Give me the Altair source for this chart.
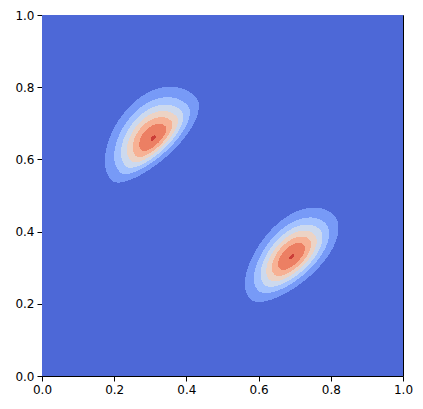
import numpy as np
import pandas as pd
import altair as alt

# ---- bump parameters (data units) ----
CENTER_X = [0.309, 0.692]
CENTER_Y = [0.658, 0.330]
PEAK = [7.05, 7.04]
ANGLE_DEG = [45.0, 45.0]
SIGMA_MAJOR = [0.083, 0.083]
SIGMA_MINOR_UPPER = [0.055, 0.047]
SIGMA_MINOR_LOWER = [0.031, 0.037]
WIDENING = [0.06, 0.06]

LEVELS = [0, 1, 2, 3, 4, 5, 6, 7]
COLORS = ["#4d68d7", "#779af7", "#a3c2ff", "#ccd9ee",
          "#ecd3c5", "#f7b194", "#ec7f63", "#cb3e38"]
TICKS = [0.0, 0.2, 0.4, 0.6, 0.8, 1.0]

N = 361
centers = (np.arange(N) + 0.5) / N
X, Y = np.meshgrid(centers, centers)
Z = np.zeros_like(X)
for cx, cy, a, ang, su, svp, svm, k in zip(CENTER_X, CENTER_Y, PEAK, ANGLE_DEG,
                                            SIGMA_MAJOR, SIGMA_MINOR_UPPER,
                                            SIGMA_MINOR_LOWER, WIDENING):
    t = np.deg2rad(ang)
    dx, dy = X - cx, Y - cy
    u = dx * np.cos(t) + dy * np.sin(t)
    v = -dx * np.sin(t) + dy * np.cos(t)
    sv = np.where(v > 0, svp, svm) * np.clip(1 + k * u / su, 0.3, None)
    Z += a * np.exp(-0.5 * (u ** 2 / su ** 2 + v ** 2 / sv ** 2))

L = np.clip(np.floor(Z), 0, 7).astype(int)

rows = []
for j in range(N):
    row = L[j]
    start = 0
    for i in range(1, N + 1):
        if i == N or row[i] != row[start]:
            rows.append({"x0": start / N, "x1": i / N,
                         "y0": j / N, "y1": (j + 1) / N,
                         "level": int(row[start])})
            start = i
df = pd.DataFrame(rows)

chart = alt.Chart(df).mark_rect(strokeWidth=0).encode(
    x=alt.X("x0:Q", scale=alt.Scale(domain=[0, 1], nice=False, zero=False),
            axis=alt.Axis(values=TICKS, format=".1f", title=None, labelFlush=False,
                          labelOverlap=False)),
    x2="x1:Q",
    y=alt.Y("y0:Q", scale=alt.Scale(domain=[0, 1], nice=False, zero=False),
            axis=alt.Axis(values=TICKS, format=".1f", title=None, labelFlush=False,
                          labelOverlap=False)),
    y2="y1:Q",
    color=alt.Color("level:O", scale=alt.Scale(domain=LEVELS, range=COLORS), legend=None),
).properties(
    width=361, height=361,
    autosize=alt.AutoSizeParams(type="none"),
    padding={"left": 34, "top": 7, "right": 12, "bottom": 24},
).configure_view(
    stroke="black", strokeWidth=1
).configure_axis(
    grid=False, domain=False, ticks=True, tickColor="black", tickSize=5, tickWidth=1,
    labelFont="DejaVu Sans", labelFontSize=12, labelColor="black", labelPadding=3,
)

chart.save("out.html", embed_options={"renderer": "svg", "actions": False})
